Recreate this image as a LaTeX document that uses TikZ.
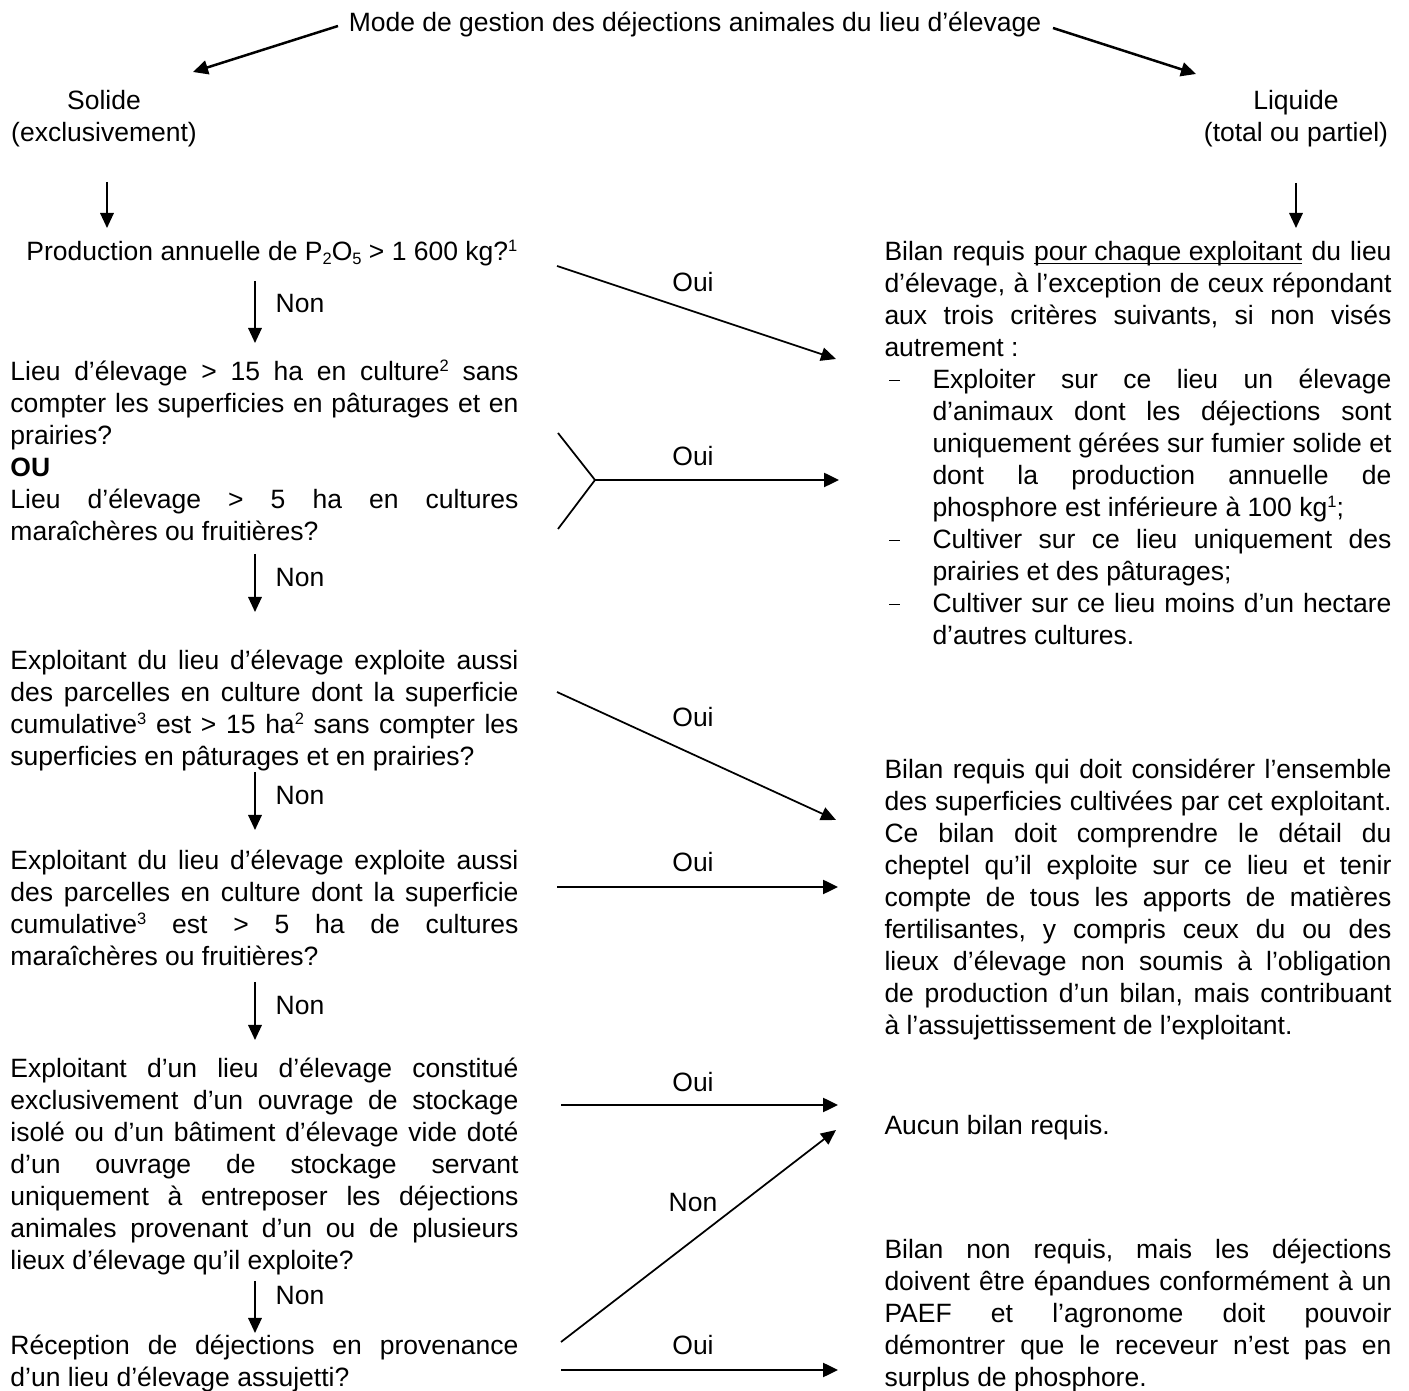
\documentclass[tikz,border=0pt]{standalone}
\usepackage{fontspec}
\setmainfont{Liberation Sans}
\usetikzlibrary{arrows.meta}
\hyphenpenalty=10000
\exhyphenpenalty=10000
\tolerance=10000
\frenchspacing

% exposants, indices, soulignement et tiret de liste
\newcommand{\expo}[1]{\raisebox{3.6pt}{\fontsize{6.6}{7}\selectfont #1}}
\newcommand{\indice}[1]{\raisebox{-1.3pt}{\fontsize{6.6}{7}\selectfont #1}}
\newcommand{\souligne}[1]{\underline{\smash{#1}}}
\newcommand{\tiret}{\par\noindent\hangindent=19.2pt\hangafter=1\makebox[19.2pt][l]{\hspace{1.8pt}\rule[0.27em]{4.2pt}{0.6pt}}}

\tikzset{
  fleche/.style={-{Triangle[length=6pt,width=5.4pt]},line width=0.7pt},
  epais/.style={-{Triangle[length=6pt,width=5.6pt]},line width=1pt},
  trait/.style={line width=0.7pt},
  texte/.style={inner sep=0pt,font=\fontsize{10.6}{12.8}\selectfont},
  bloc/.style={texte,anchor=north west,text width=#1,align=justify,
    execute at begin node={\parindent=0pt\strut}},
}

\begin{document}
\begin{tikzpicture}[x=0.4pt,y=-0.4pt]
  \useasboundingbox (0,0) rectangle (1409,1391);

  % Titre et les deux modes de gestion
  \node[texte,anchor=base] (titre) at (695,32) {Mode de gestion des déjections animales du lieu d’élevage};
  \node[texte,anchor=north,align=center,execute at begin node=\strut] (solide) at (104,90) {Solide\\(exclusivement)};
  \node[texte,anchor=north,align=center,execute at begin node=\strut] (liquide) at (1296,90) {Liquide\\(total ou partiel)};

  \coordinate (t1) at (338,26);  \coordinate (s1) at (193,72);
  \coordinate (t2) at (1053,28); \coordinate (l1) at (1196,74);
  \draw[epais] (t1) -- (s1);
  \draw[epais] (t2) -- (l1);

  \coordinate (s2) at (107,182);  \coordinate (s3) at (107,228);
  \coordinate (l2) at (1296,183); \coordinate (l3) at (1296,228);
  \draw[fleche] (s2) -- (s3);
  \draw[fleche] (l2) -- (l3);

  % Colonne de gauche : les questions
  \node[texte,anchor=base west] (q1) at (26,261) {Production annuelle de P\indice{2}O\indice{5} > 1~600~kg?\expo{1}};

  \node[bloc=203.2pt] (q2) at (10,357.6) {Lieu d’élevage > 15 ha en culture\expo{2} sans\linebreak
    compter les superficies en pâturages et en\linebreak
    prairies?\par
    \textbf{OU}\par
    Lieu d’élevage > 5~ha en cultures\linebreak
    maraîchères ou fruitières?};

  \node[bloc=203.2pt] (q3) at (10,646.6) {Exploitant du lieu d’élevage exploite aussi\linebreak
    des parcelles en culture dont la superficie\linebreak
    cumulative\expo{3} est > 15 ha\expo{2} sans compter les\linebreak
    superficies en pâturages et en prairies?};

  \node[bloc=203.2pt] (q4) at (10,846.6) {Exploitant du lieu d’élevage exploite aussi\linebreak
    des parcelles en culture dont la superficie\linebreak
    cumulative\expo{3} est >~5 ha de cultures\linebreak
    maraîchères ou fruitières?};

  \node[bloc=203.2pt] (q5) at (10,1054.6) {Exploitant d’un lieu d’élevage constitué\linebreak
    exclusivement d’un ouvrage de stockage\linebreak
    isolé ou d’un bâtiment d’élevage vide doté\linebreak
    d’un ouvrage de stockage servant\linebreak
    uniquement à entreposer les déjections\linebreak
    animales provenant d’un ou de plusieurs\linebreak
    lieux d’élevage qu’il exploite?};

  \node[bloc=203.2pt] (q6) at (10,1332) {Réception de déjections en provenance\linebreak
    d’un lieu d’élevage assujetti?};

  % Les « Non » qui descendent
  \coordinate (n1a) at (255,281);  \coordinate (n1b) at (255,343);
  \coordinate (n2a) at (255,554);  \coordinate (n2b) at (255,612);
  \coordinate (n3a) at (255,772);  \coordinate (n3b) at (255,830);
  \coordinate (n4a) at (255,982);  \coordinate (n4b) at (255,1040);
  \coordinate (n5a) at (255,1281); \coordinate (n5b) at (255,1333);
  \draw[fleche] (n1a) -- (n1b);
  \draw[fleche] (n2a) -- (n2b);
  \draw[fleche] (n3a) -- (n3b);
  \draw[fleche] (n4a) -- (n4b);
  \draw[fleche] (n5a) -- (n5b);
  \node[texte] (non1) at (300,304) {Non};
  \node[texte] (non2) at (300,578) {Non};
  \node[texte] (non3) at (300,796) {Non};
  \node[texte] (non4) at (300,1006) {Non};
  \node[texte] (non5) at (300,1296) {Non};

  % Colonne de droite : les conclusions
  \node[bloc=202.8pt] (bilan) at (884,237.6) {Bilan requis \souligne{pour chaque exploitant} du lieu\linebreak
    d’élevage, à l’exception de ceux répondant\linebreak
    aux trois critères suivants, si non visés\linebreak
    autrement~:
    \tiret Exploiter sur ce lieu un élevage\linebreak
    d’animaux dont les déjections sont\linebreak
    uniquement gérées sur fumier solide et\linebreak
    dont la production annuelle de\linebreak
    phosphore est inférieure à 100~kg\expo{1};
    \tiret Cultiver sur ce lieu uniquement des\linebreak
    prairies et des pâturages;
    \tiret Cultiver sur ce lieu moins d’un hectare\linebreak
    d’autres cultures.\par};

  \node[bloc=202.8pt] (ensemble) at (884,755.6) {Bilan requis qui doit considérer l’ensemble\linebreak
    des superficies cultivées par cet exploitant.\linebreak
    Ce bilan doit comprendre le détail du\linebreak
    cheptel qu’il exploite sur ce lieu et tenir\linebreak
    compte de tous les apports de matières\linebreak
    fertilisantes, y compris ceux du ou des\linebreak
    lieux d’élevage non soumis à l’obligation\linebreak
    de production d’un bilan, mais contribuant\linebreak
    à l’assujettissement de l’exploitant.};

  \node[texte,anchor=base west] (aucun) at (884,1135) {Aucun bilan requis.};

  \node[bloc=202.8pt] (nonrequis) at (884,1236) {Bilan non requis, mais les déjections\linebreak
    doivent être épandues conformément à un\linebreak
    PAEF et l’agronome doit pouvoir\linebreak
    démontrer que le receveur n’est pas en\linebreak
    surplus de phosphore.};

  % Les « Oui » vers la droite
  \coordinate (a1) at (557,266);  \coordinate (b1) at (836,359);
  \coordinate (f1) at (558,433);  \coordinate (f2) at (558,529);
  \coordinate (f0) at (595,480);  \coordinate (b2) at (839,480);
  \coordinate (a3) at (557,692);  \coordinate (b3) at (836,820);
  \coordinate (a4) at (557,887);  \coordinate (b4) at (838,887);
  \coordinate (a5) at (561,1105); \coordinate (b5) at (838,1105);
  \coordinate (a6) at (561,1342); \coordinate (b6) at (836,1130);
  \coordinate (a7) at (561,1370); \coordinate (b7) at (838,1370);
  \draw[fleche] (a1) -- (b1);
  \draw[trait] (f1) -- (f0) -- (f2);
  \draw[epais] (f0) -- (b2);
  \draw[fleche] (a3) -- (b3);
  \draw[epais] (a4) -- (b4);
  \draw[epais] (a5) -- (b5);
  \draw[fleche] (a6) -- (b6);
  \draw[epais] (a7) -- (b7);
  \node[texte] (oui1) at (693,282) {Oui};
  \node[texte] (oui2) at (693,456) {Oui};
  \node[texte] (oui3) at (693,717) {Oui};
  \node[texte] (oui4) at (693,862) {Oui};
  \node[texte] (oui5) at (693,1082) {Oui};
  \node[texte] (non6) at (693,1203) {Non};
  \node[texte] (oui7) at (693,1345) {Oui};
\end{tikzpicture}
\end{document}
